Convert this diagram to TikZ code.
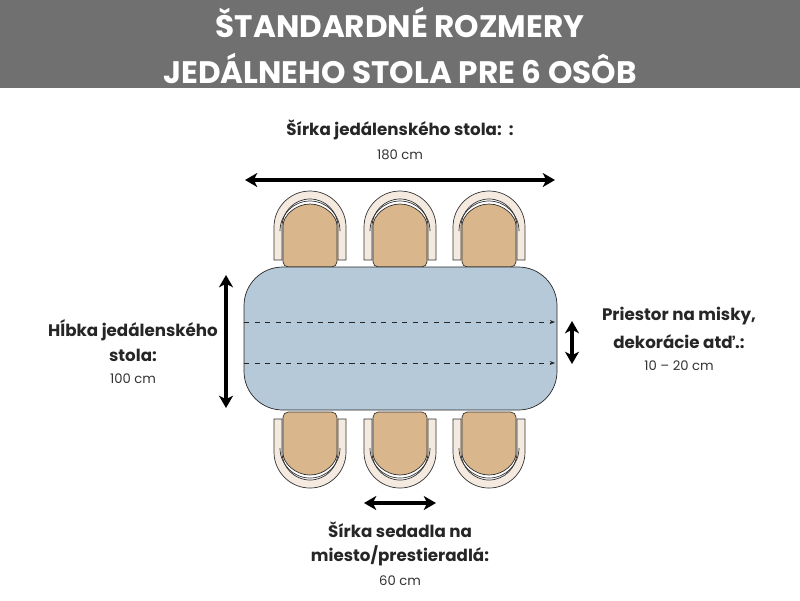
\documentclass[tikz,border=0pt]{standalone}
\usepackage{fontspec}
\setmainfont{Poppins}
\usetikzlibrary{positioning,arrows.meta}
\definecolor{barcolor}{HTML}{707070}
\definecolor{topcolor}{HTML}{B6C9D9}
\definecolor{seatcolor}{HTML}{D9B68B}
\definecolor{backcolor}{HTML}{F4EADF}
\tikzset{
	label/.style={font=\bfseries\fontsize{9.5}{11}\selectfont, text=black!85},
	value/.style={font=\fontsize{7.5}{9}\selectfont, text=black!80},
	measure/.style={line width=2.2pt, {Stealth[length=7pt,width=8pt,inset=2pt]}-{Stealth[length=7pt,width=8pt,inset=2pt]}},
	chair/.pic={
		\filldraw[fill=backcolor, draw=black!80, thin] (-36,-7) -- (-36,-40) arc[start angle=180,end angle=360,radius=36] -- (36,-7) -- (28,-7) -- (28,-40) arc[start angle=360,end angle=180,radius=28] -- (-28,-7) -- cycle;
		\draw[black!80, thin] (-30,-36) arc[start angle=180,end angle=360,radius=30];
		\filldraw[fill=seatcolor, draw=black!80, thin, rounded corners=3pt] (-27,-36) arc[start angle=180,end angle=360,radius=27] -- (27,0) -- (-27,0) -- cycle;
	}
}

\begin{document}
\begin{tikzpicture}[x=0.02cm, y=-0.02cm]

	\useasboundingbox (0,0) rectangle (800,600);
	\fill[barcolor] (0,0) rectangle (800,88);
	\node[text=white, font=\bfseries\fontsize{17.7}{21}\selectfont] (title1) at (400,22) {ŠTANDARDNÉ ROZMERY};
	\node[text=white, font=\bfseries\fontsize{17.7}{21}\selectfont] (title2) at (400,68) {JEDÁLNEHO STOLA PRE 6 OSÔB};

	% chairs
	\foreach \cx in {310,400,489} {
		\pic at (\cx,267) {chair};
		\pic[yscale=-1] at (\cx,412) {chair};
	}

	% table
	\filldraw[fill=topcolor, draw=black!85, thin, rounded corners=22pt] (244,267) rectangle (557,410);
	\draw[dashed, black!85, thin, -{Stealth[length=3pt]}] (244,322) -- (555,322);
	\draw[dashed, black!85, thin, -{Stealth[length=3pt]}] (244,363) -- (555,363);

	% measures
	\coordinate (wl) at (245,180);
	\coordinate (wr) at (555,180);
	\draw[measure] (wl) -- (wr);
	\coordinate (dt) at (226,275);
	\coordinate (db) at (226,408);
	\draw[measure] (dt) -- (db);
	\coordinate (gt) at (572,321);
	\coordinate (gb) at (572,364);
	\draw[measure] (gt) -- (gb);
	\coordinate (sl) at (364,503);
	\coordinate (sr) at (436,503);
	\draw[measure] (sl) -- (sr);

	% labels
	\node[label] (width) at (400,130) {Šírka jedálenského stola:\ \ :};
	\node[value] (widthval) at (400,155) {180 cm};
	\node[label] (depth1) at (133,330) {Hĺbka jedálenského};
	\node[label] (depth2) at (133,355) {stola:};
	\node[value] (depthval) at (133,379) {100 cm};
	\node[label] (gap1) at (679,316) {Priestor na misky,};
	\node[label] (gap2) at (679,342) {dekorácie atď.:};
	\node[value] (gapval) at (679,366) {10 – 20 cm};
	\node[label] (seat1) at (400,530) {Šírka sedadla na};
	\node[label] (seat2) at (400,556) {miesto/prestieradlá:};
	\node[value] (seatval) at (400,581) {60 cm};

\end{tikzpicture}
\end{document}
